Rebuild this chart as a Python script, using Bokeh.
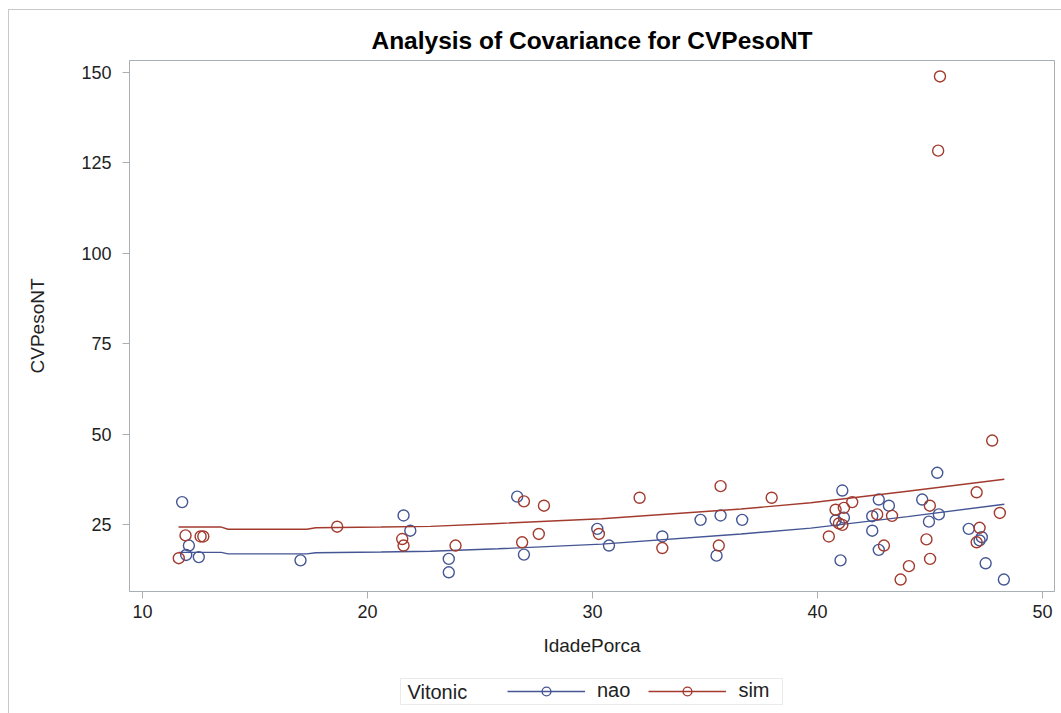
from bokeh.plotting import figure
from bokeh.layouts import column
from bokeh.models import Legend, LegendItem, Range1d, FixedTicker, Label, BoxAnnotation
from bokeh.embed import file_html
from bokeh.resources import INLINE

# ---- data ----
groups = ["nao", "sim"]
legend_title = "Vitonic"
x_ticks = [10, 20, 30, 40, 50]
y_ticks = [25, 50, 75, 100, 125, 150]

nao_x = [11.76, 12.06, 11.94, 12.5, 17.02, 21.6, 21.9, 23.61, 23.61, 26.65, 26.95,
         30.21, 30.73, 33.1, 34.8, 35.69, 35.51, 36.65, 41.1, 40.8, 41.17, 41.02,
         42.72, 43.17, 42.43, 42.43, 42.72, 44.65, 45.39, 44.95, 45.32, 46.72,
         47.3, 47.2, 47.47, 48.28]
nao_y = [31.2, 19.2, 16.6, 16.0, 15.1, 27.5, 23.3, 15.5, 11.8, 32.7, 16.7,
         23.8, 19.2, 21.7, 26.3, 27.5, 16.4, 26.3, 34.4, 26.1, 26.9, 15.1,
         31.9, 30.2, 27.3, 23.3, 18.0, 31.9, 27.8, 25.8, 39.3, 23.8,
         21.5, 20.6, 14.3, 9.8]

sim_x = [11.61, 11.91, 12.58, 12.7, 18.65, 21.54, 21.6, 23.91, 26.95, 27.84, 27.61,
         26.87, 30.28, 32.09, 33.1, 35.69, 35.61, 37.96, 40.8, 41.17, 41.54, 40.95,
         41.1, 40.5, 42.65, 43.31, 42.95, 44.06, 43.69, 44.99, 44.84, 45.0, 45.36,
         45.44, 47.76, 47.07, 48.1, 47.2, 47.07]
sim_y = [15.7, 22.0, 21.7, 21.7, 24.4, 21.0, 19.2, 19.2, 31.4, 30.2, 22.4,
         20.1, 22.4, 32.4, 18.5, 35.6, 19.2, 32.4, 29.1, 29.6, 31.2, 25.3,
         24.9, 21.7, 27.8, 27.4, 19.2, 13.5, 9.8, 30.2, 20.9, 15.5, 128.3,
         148.8, 48.2, 33.9, 28.2, 24.1, 20.1]

fit_x = [11.6, 13.5, 13.8, 17.3, 17.7, 20.6, 22.8, 25.8, 30.4, 36.6, 39.7, 44.0, 48.3]
fit_sim = [24.3, 24.3, 23.7, 23.7, 24.1, 24.3, 24.5, 25.3, 26.6, 29.3, 31.0, 34.2, 37.5]
fit_nao = [17.3, 17.3, 16.9, 16.9, 17.2, 17.4, 17.6, 18.3, 19.6, 22.4, 24.0, 27.2, 30.6]

BLUE = "#445694"
RED = "#A23A2E"
FONT = "Liberation Sans"
GRAY = "#a9b0b5"
TXT = "#222222"

W = 1052
p = figure(width=W, height=660, output_backend="svg", toolbar_location=None,
           x_range=Range1d(9.42, 50.53), y_range=Range1d(6.5, 153.2),
           min_border_left=120, min_border_right=7, min_border_top=50,
           min_border_bottom=79, title="Analysis of Covariance for CVPesoNT")

p.title.align = "center"
p.title.text_font = FONT
p.title.text_font_size = "24.5px"
p.title.text_font_style = "bold"
p.title.text_color = "#000000"
p.title.standoff = 14

p.xgrid.visible = False
p.ygrid.visible = False
p.outline_line_color = GRAY

for ax in (p.xaxis, p.yaxis):
    ax.axis_line_color = GRAY
    ax.major_tick_line_color = GRAY
    ax.minor_tick_line_color = None
    ax.major_tick_in = 0
    ax.major_tick_out = 7
    ax.major_label_text_font = FONT
    ax.major_label_text_font_size = "18px"
    ax.major_label_text_color = TXT
    ax.axis_label_text_font = FONT
    ax.axis_label_text_font_size = "19px"
    ax.axis_label_text_font_style = "normal"
    ax.axis_label_text_color = TXT

p.xaxis.major_label_standoff = 6
p.yaxis.major_label_standoff = 11
p.xaxis.ticker = FixedTicker(ticks=x_ticks)
p.yaxis.ticker = FixedTicker(ticks=y_ticks)
p.xaxis.axis_label = "IdadePorca"
p.yaxis.axis_label = "CVPesoNT"
p.xaxis.axis_label_standoff = 14
p.yaxis.axis_label_standoff = 30

p.line(fit_x, fit_nao, line_color=BLUE, line_width=1.4)
p.scatter(nao_x, nao_y, marker="circle", size=11, fill_color=None,
          line_color=BLUE, line_width=1.4)
p.line(fit_x, fit_sim, line_color=RED, line_width=1.4)
p.scatter(sim_x, sim_y, marker="circle", size=11, fill_color=None,
          line_color=RED, line_width=1.4)

# ---- legend strip below the plot (its frame is aligned with the plot's frame) ----
q = figure(width=W, height=43, output_backend="svg", toolbar_location=None,
           x_range=Range1d(0, 1), y_range=Range1d(0, 1), min_border=0)
q.axis.visible = False
q.xgrid.visible = False
q.ygrid.visible = False
q.outline_line_color = None

box = BoxAnnotation(left=271, right=653, top=35, bottom=9,
                    left_units="screen", right_units="screen",
                    top_units="screen", bottom_units="screen",
                    fill_color="white", fill_alpha=0, line_color="#b8b8b8", line_width=1)
q.add_layout(box)
q.add_layout(Label(x=278, y=22, x_units="screen", y_units="screen", text=legend_title,
                   text_font=FONT, text_font_size="20px", text_color=TXT,
                   text_baseline="middle", text_align="left"))

# legend swatches: same series, lying outside this strip's (0..1) ranges
ql1 = q.line(fit_x, fit_nao, line_color=BLUE, line_width=1.4)
qc1 = q.scatter(nao_x, nao_y, marker="circle", size=9, fill_color=None,
                line_color=BLUE, line_width=1.4)
ql2 = q.line(fit_x, fit_sim, line_color=RED, line_width=1.4)
qc2 = q.scatter(sim_x, sim_y, marker="circle", size=9, fill_color=None,
                line_color=RED, line_width=1.4)

legend = Legend(items=[LegendItem(label=groups[0], renderers=[ql1, qc1]),
                       LegendItem(label=groups[1], renderers=[ql2, qc2])],
                orientation="horizontal", location=(378, 11))
legend.label_text_font = FONT
legend.label_text_font_size = "20px"
legend.label_text_color = TXT
legend.glyph_width = 78
legend.glyph_height = 22
legend.label_height = 22
legend.label_standoff = 12
legend.spacing = 18
legend.padding = 0
legend.margin = 0
legend.border_line_color = None
legend.background_fill_alpha = 0
q.add_layout(legend)

layout = column(p, q, spacing=0)
layout.styles = {"margin-left": "8px", "margin-top": "9px",
                 "border-left": "1px solid #c8c8c8", "border-top": "1px solid #c8c8c8"}

open("out.html", "w").write(file_html(layout, INLINE))
